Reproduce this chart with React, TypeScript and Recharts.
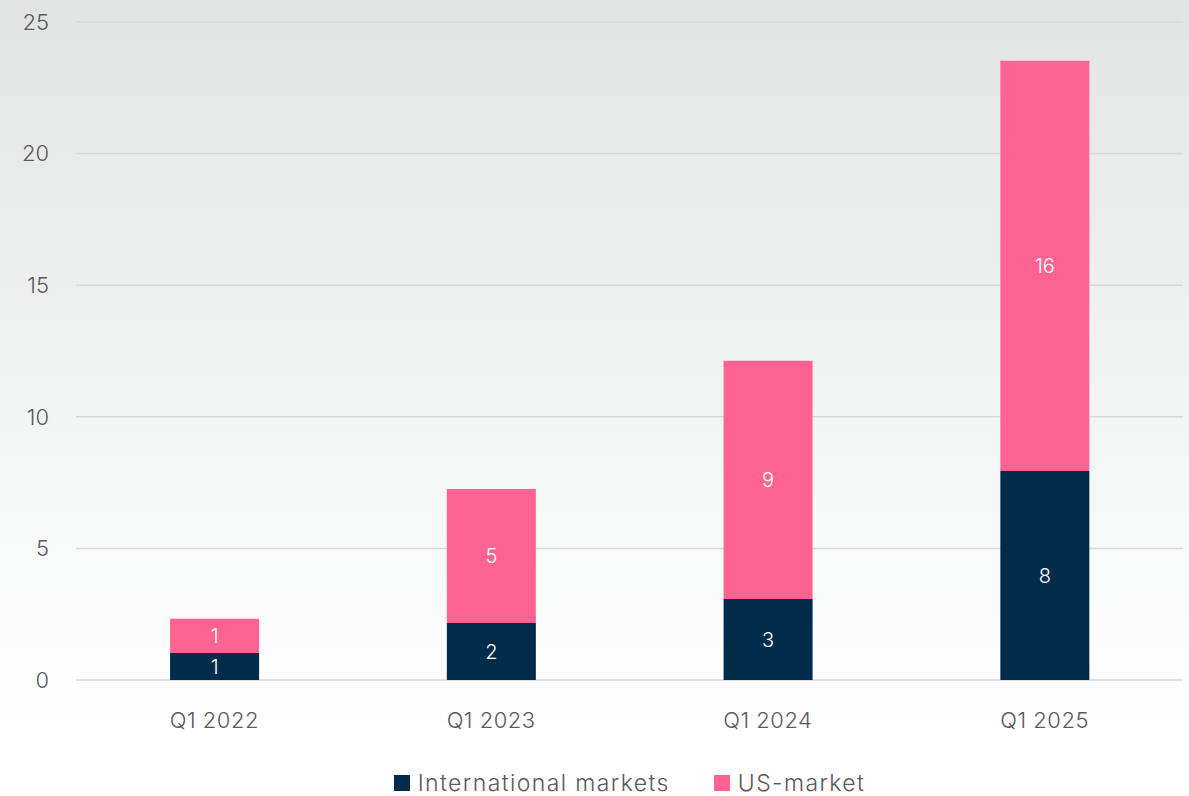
import { BarChart, Bar, XAxis, YAxis, CartesianGrid, Legend, LabelList } from 'recharts'

const quarters = ['Q1 2022', 'Q1 2023', 'Q1 2024', 'Q1 2025']
const international = [1.03, 2.17, 3.08, 7.94]
const usMarket = [1.3, 5.09, 9.05, 15.59]
const yTicks = [0, 5, 10, 15, 20, 25]

const NAVY = '#012b4a'
const PINK = '#ff6391'
const TEXT = '#595959'
const FONT = 'Inter, "Open Sans", sans-serif'

const data = quarters.map((q, i) => ({
  quarter: q,
  international: international[i],
  us: usMarket[i],
}))

const legendItems = [
  { label: 'International markets', color: NAVY },
  { label: 'US-market', color: PINK },
]

function ChartLegend() {
  return (
    <div
      style={{
        display: 'flex',
        justifyContent: 'center',
        alignItems: 'center',
        gap: 44,
        paddingLeft: 76,
        fontFamily: FONT,
        fontSize: 23,
        letterSpacing: 1.4,
        color: TEXT,
        fontWeight: 300,
        height: 26,
        lineHeight: '26px',
      }}
    >
      {legendItems.map((item) => (
        <div key={item.label} style={{ display: 'flex', alignItems: 'center' }}>
          <span style={{ width: 16, height: 16, background: item.color, marginRight: 8, display: 'inline-block' }} />
          <span>{item.label}</span>
        </div>
      ))}
    </div>
  )
}

const roundLabel = (v: any) => Math.round(Number(v))

export default function App() {
  return (
    <div
      style={{
        position: 'absolute',
        left: 0,
        top: 0,
        width: 1189,
        height: 796,
        background: 'linear-gradient(to bottom, #e2e3e3 0%, #f7f8f8 65%, #ffffff 92%)',
      }}
    >
      <BarChart
        width={1189}
        height={796}
        data={data}
        margin={{ top: 22, right: 6, left: 0, bottom: 0 }}
        barCategoryGap="34%"
      >
        <CartesianGrid vertical={false} stroke="#d9d9d9" strokeWidth={1.5} />
        <XAxis
          dataKey="quarter"
          axisLine={false}
          tickLine={false}
          tickSize={0}
          tickMargin={32}
          height={90}
          tick={{ fill: TEXT, fontSize: 22, fontFamily: FONT, fontWeight: 300, letterSpacing: 0.5 }}
        />
        <YAxis
          domain={[0, 25]}
          ticks={yTicks}
          axisLine={false}
          tickLine={false}
          tickSize={0}
          tickMargin={27}
          width={76}
          tick={{ fill: TEXT, fontSize: 22, fontFamily: FONT, fontWeight: 300 }}
        />
        <Legend verticalAlign="bottom" height={26} content={<ChartLegend />} />
        <Bar dataKey="international" stackId="a" fill={NAVY} isAnimationActive={false}>
          <LabelList
            dataKey="international"
            position="center"
            formatter={roundLabel}
            fill="#ffffff"
            style={{ fontSize: 20, fontFamily: FONT, fontWeight: 300 }}
          />
        </Bar>
        <Bar dataKey="us" stackId="a" fill={PINK} isAnimationActive={false}>
          <LabelList
            dataKey="us"
            position="center"
            formatter={roundLabel}
            fill="#ffffff"
            style={{ fontSize: 20, fontFamily: FONT, fontWeight: 300 }}
          />
        </Bar>
      </BarChart>
    </div>
  )
}
